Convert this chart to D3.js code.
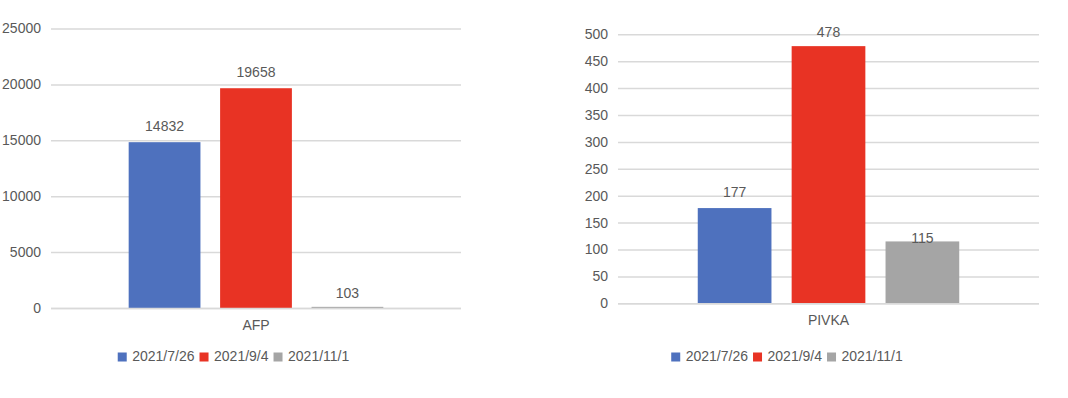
<!DOCTYPE html>
<html>
<head>
<meta charset="utf-8">
<script src="https://cdn.jsdelivr.net/npm/d3@7"></script>
<style>
  html, body { margin: 0; padding: 0; background: #fff; }
  text { font-family: "Liberation Sans", Arial, sans-serif; fill: #595959; }
</style>
</head>
<body>
<div id="chart"></div>
<script>
// data
var seriesNames = ["2021/7/26", "2021/9/4", "2021/11/1"];
var afpValues = [14832, 19658, 103];
var pivkaValues = [177, 478, 115];
var categories = ["AFP", "PIVKA"];
var afpTicks = [0, 5000, 10000, 15000, 20000, 25000];
var pivkaTicks = [0, 50, 100, 150, 200, 250, 300, 350, 400, 450, 500];

var colors = ["#4e71be", "#e83324", "#a5a5a5"];
var width = 1068, height = 398;
var fontSize = 14;

var svg = d3.select("#chart").append("svg")
  .attr("width", width).attr("height", height);

// layout of each panel (plot area + legend centre + label lift)
var panels = [
  { cat: categories[0], values: afpValues, ticks: afpTicks,
    left: 51, right: 461, top: 28.5, bottom: 308, legendCx: 233.5,
    lift: [15, 15, 13] },
  { cat: categories[1], values: pivkaValues, ticks: pivkaTicks,
    left: 618, right: 1039, top: 34.3, bottom: 303.3, legendCx: 787,
    lift: [15, 13, 2] }
];

panels.forEach(function(p){
  var g = svg.append("g");
  var y = d3.scaleLinear()
    .domain([0, d3.max(p.ticks)])
    .range([p.bottom, p.top]);
  var x0 = d3.scaleBand().domain([p.cat])
    .range([p.left, p.right]).paddingInner(0).paddingOuter(0.305);
  var x1 = d3.scaleBand().domain(seriesNames)
    .range([0, x0.bandwidth()]).paddingInner(0.215).paddingOuter(0);

  // gridlines + tick labels via axis
  var axis = d3.axisLeft(y).tickValues(p.ticks)
    .tickSize(-(p.right - p.left)).tickPadding(10).tickFormat(d3.format("d"));
  var ag = g.append("g")
    .attr("transform", "translate(" + p.left + ",0)")
    .call(axis);
  ag.select(".domain").remove();
  ag.selectAll(".tick line").attr("stroke", "#d9d9d9").attr("stroke-width", 1.5);
  ag.selectAll(".tick text")
    .attr("fill", "#595959").attr("font-size", fontSize)
    .style("font-family", "'Liberation Sans', Arial, sans-serif");

  // bars
  g.selectAll("rect.bar")
    .data(p.values)
    .enter().append("rect")
      .attr("class", "bar")
      .attr("x", function(d, i){ return x0(p.cat) + x1(seriesNames[i]); })
      .attr("y", function(d){ return y(d); })
      .attr("width", x1.bandwidth())
      .attr("height", function(d){ return Math.max(2, y(0) - y(d)); })
      .attr("fill", function(d, i){ return colors[i]; });

  // baseline over bars
  g.append("line")
    .attr("x1", p.left).attr("x2", p.right)
    .attr("y1", y(0) + 0.5).attr("y2", y(0) + 0.5)
    .attr("stroke", "#d9d9d9").attr("stroke-width", 1.5);

  // value labels
  g.selectAll("text.val")
    .data(p.values)
    .enter().append("text")
      .attr("class", "val")
      .attr("x", function(d, i){ return x0(p.cat) + x1(seriesNames[i]) + x1.bandwidth() / 2; })
      .attr("y", function(d, i){ return y(d) - p.lift[i]; })
      .attr("text-anchor", "middle")
      .attr("dominant-baseline", "middle")
      .attr("font-size", fontSize)
      .text(function(d){ return d; });

  // category label
  g.append("text")
    .attr("x", x0(p.cat) + x0.bandwidth() / 2)
    .attr("y", p.bottom + 18)
    .attr("text-anchor", "middle")
    .attr("dominant-baseline", "middle")
    .attr("font-size", fontSize)
    .text(p.cat);

  // legend
  var lg = g.append("g");
  var items = lg.selectAll("g")
    .data(seriesNames)
    .enter().append("g");
  items.append("rect")
    .attr("width", 9).attr("height", 9)
    .attr("y", 357 - 4.5)
    .attr("fill", function(d, i){ return colors[i]; });
  items.append("text")
    .attr("x", 14.5).attr("y", 357)
    .attr("dominant-baseline", "middle")
    .attr("font-size", fontSize)
    .text(function(d){ return d; });
  var xpos = 0;
  items.each(function(){
    var w = d3.select(this).select("text").node().getComputedTextLength();
    d3.select(this).attr("transform", "translate(" + xpos + ",0)");
    xpos += 14.5 + w + 5;
  });
  var total = xpos - 5;
  lg.attr("transform", "translate(" + (p.legendCx - total / 2) + ",0)");
});
</script>
</body>
</html>
